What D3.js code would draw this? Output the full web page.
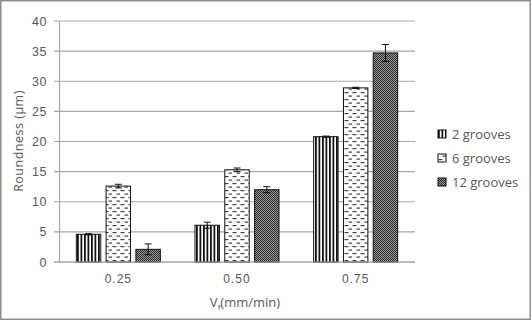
<!DOCTYPE html>
<html>
<head>
<meta charset="utf-8">
<script src="https://cdn.jsdelivr.net/npm/d3@7"></script>
<style>
  body { margin: 0; background: #fff; }
  svg { display: block; font-family: "Open Sans", sans-serif; }
</style>
</head>
<body>
<svg></svg>
<script>
const categories = ['0.25', '0.50', '0.75'];
const series = ['2 grooves', '6 grooves', '12 grooves'];
const values2 = [4.6, 6.1, 20.8];
const values6 = [12.6, 15.3, 28.9];
const values12 = [2.1, 12.0, 34.7];
const err2 = [0.1, 0.5, 0.1];
const err6 = [0.3, 0.3, 0.1];
const err12 = [0.9, 0.5, 1.4];
const yTicks = [0, 5, 10, 15, 20, 25, 30, 35, 40];

const width = 531;
const height = 320;
const plotLeft = 59, plotRight = 415, plotTop = 21, plotBottom = 262;
const textColor = '#595959';

const svg = d3.select('svg').attr('width', width).attr('height', height);

// patterns for the three series
const defs = svg.append('defs');

const p1 = defs.append('pattern').attr('id', 'pat2').attr('patternUnits', 'userSpaceOnUse')
    .attr('width', 3.5).attr('height', 4);
p1.append('rect').attr('width', 3.5).attr('height', 4).attr('fill', '#fff');
p1.append('rect').attr('x', 0).attr('width', 1.8).attr('height', 4).attr('fill', '#111');

const p2 = defs.append('pattern').attr('id', 'pat6').attr('patternUnits', 'userSpaceOnUse')
    .attr('width', 8).attr('height', 7);
p2.append('rect').attr('width', 8).attr('height', 7).attr('fill', '#fff');
p2.append('rect').attr('x', 0.5).attr('y', 1).attr('width', 4).attr('height', 1.2).attr('fill', '#444');
p2.append('rect').attr('x', 4.5).attr('y', 4.5).attr('width', 4).attr('height', 1.2).attr('fill', '#444');

const p3 = defs.append('pattern').attr('id', 'pat12').attr('patternUnits', 'userSpaceOnUse')
    .attr('width', 2).attr('height', 2);
p3.append('rect').attr('width', 2).attr('height', 2).attr('fill', '#9a9a9a');
p3.append('rect').attr('x', 0).attr('y', 0).attr('width', 1).attr('height', 1).attr('fill', '#2a2a2a');
p3.append('rect').attr('x', 1).attr('y', 1).attr('width', 1).attr('height', 1).attr('fill', '#2a2a2a');

const fills = ['url(#pat2)', 'url(#pat6)', 'url(#pat12)'];

// outer frame
svg.append('rect')
    .attr('x', 0.75).attr('y', 0.75)
    .attr('width', width - 1.5).attr('height', height - 1.5)
    .attr('fill', 'none').attr('stroke', '#8c8c8c').attr('stroke-width', 1.5);

const x0 = d3.scaleBand().domain(categories).range([plotLeft, plotRight]);
const x1 = d3.scaleBand().domain(series).range([-42, 42]).paddingInner(0.18);
const y = d3.scaleLinear().domain([0, 40]).range([plotBottom, plotTop]);

// gridlines
svg.append('g')
    .selectAll('line')
    .data(yTicks)
    .join('line')
    .attr('x1', plotLeft - 5).attr('x2', plotRight)
    .attr('y1', d => y(d)).attr('y2', d => y(d))
    .attr('stroke', '#a6a6a6').attr('stroke-width', 1.2);

// y axis
const yAxis = d3.axisLeft(y).tickValues(yTicks).tickSize(0).tickPadding(12);
const gy = svg.append('g').attr('transform', 'translate(' + plotLeft + ',0)').call(yAxis);
gy.select('.domain').attr('stroke', '#a6a6a6').attr('stroke-width', 1.2);
gy.selectAll('text')
    .attr('fill', textColor)
    .style('font-size', '12.5px')
    .style('letter-spacing', '0.5px');

// x axis labels
const xAxis = d3.axisBottom(x0).tickSize(0).tickPadding(12);
const gx = svg.append('g').attr('transform', 'translate(0,' + plotBottom + ')').call(xAxis);
gx.select('.domain').remove();
gx.selectAll('text')
    .attr('fill', textColor)
    .style('font-size', '12px')
    .style('letter-spacing', '1px');

// bars
const seriesData = [
    { name: series[0], values: values2, errs: err2 },
    { name: series[1], values: values6, errs: err6 },
    { name: series[2], values: values12, errs: err12 }
];

seriesData.forEach((s, i) => {
    const g = svg.append('g');
    const cx = c => x0(c) + x0.bandwidth() / 2 + x1(s.name);
    g.selectAll('rect')
        .data(categories)
        .join('rect')
        .attr('x', c => cx(c))
        .attr('y', (c, j) => y(s.values[j]))
        .attr('width', x1.bandwidth())
        .attr('height', (c, j) => plotBottom - y(s.values[j]))
        .attr('fill', fills[i])
        .attr('stroke', '#111')
        .attr('stroke-width', 1);

    // error bars
    const eb = g.selectAll('g.err')
        .data(categories)
        .join('g')
        .attr('class', 'err');
    const mid = c => cx(c) + x1.bandwidth() / 2;
    eb.append('line')
        .attr('x1', c => mid(c)).attr('x2', c => mid(c))
        .attr('y1', (c, j) => y(s.values[j] - s.errs[j]))
        .attr('y2', (c, j) => y(s.values[j] + s.errs[j]))
        .attr('stroke', '#111').attr('stroke-width', 1);
    eb.append('line')
        .attr('x1', c => mid(c) - 3.5).attr('x2', c => mid(c) + 3.5)
        .attr('y1', (c, j) => y(s.values[j] + s.errs[j]))
        .attr('y2', (c, j) => y(s.values[j] + s.errs[j]))
        .attr('stroke', '#111').attr('stroke-width', 1);
    eb.append('line')
        .attr('x1', c => mid(c) - 3.5).attr('x2', c => mid(c) + 3.5)
        .attr('y1', (c, j) => y(s.values[j] - s.errs[j]))
        .attr('y2', (c, j) => y(s.values[j] - s.errs[j]))
        .attr('stroke', '#111').attr('stroke-width', 1);
});

// bottom axis line on top of bars
svg.append('line')
    .attr('x1', plotLeft - 5).attr('x2', plotRight)
    .attr('y1', plotBottom).attr('y2', plotBottom)
    .attr('stroke', '#a6a6a6').attr('stroke-width', 1.2);

// axis titles
svg.append('text')
    .attr('transform', 'translate(23,141) rotate(-90)')
    .attr('text-anchor', 'middle')
    .attr('fill', textColor)
    .style('font-size', '12.5px')
    .style('letter-spacing', '0.5px')
    .text('Roundness (µm)');

const xt = svg.append('text')
    .attr('x', 245).attr('y', 307)
    .attr('text-anchor', 'middle')
    .attr('fill', textColor)
    .style('font-size', '13px');
xt.append('tspan').text('V');
xt.append('tspan').attr('dy', 3).style('font-size', '8px').text('f');
xt.append('tspan').attr('dy', -3).text('(mm/min)');

// legend
const legend = svg.append('g')
    .selectAll('g')
    .data(series)
    .join('g')
    .attr('transform', (d, i) => 'translate(438,' + (134 + i * 24) + ')');
legend.append('rect')
    .attr('x', 0).attr('y', -4)
    .attr('width', 8).attr('height', 8)
    .attr('fill', (d, i) => fills[i])
    .attr('stroke', '#111').attr('stroke-width', 1);
legend.append('text')
    .attr('x', 14).attr('y', 0).attr('dy', '0.35em')
    .attr('fill', textColor)
    .style('font-size', '13px')
    .text(d => d);
</script>
</body>
</html>
